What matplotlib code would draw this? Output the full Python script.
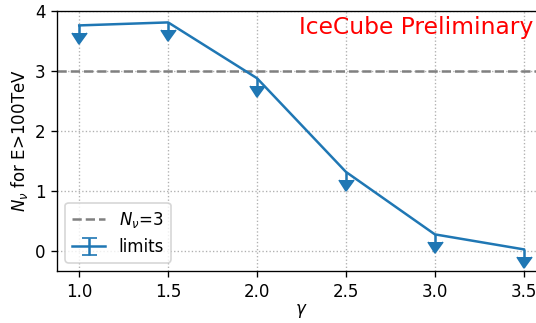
import numpy as np
import matplotlib.pyplot as plt

gamma = [1.0, 1.5, 2.0, 2.5, 3.0, 3.5]
n_nu = [3.76, 3.81, 2.88, 1.32, 0.28, 0.03]
arrow_len = 0.13
y_ticks = [0, 1, 2, 3, 4]

dpi = 120
fig = plt.figure(figsize=(536 / dpi, 323 / dpi), dpi=dpi)
ax = fig.add_axes([57 / 536, 1 - 271 / 323, (546 - 57) / 536, (271 - 11) / 323])

ax.axhline(3, color='gray', linestyle='--', label=r'$N_\nu$=3')
line, caps, bars = ax.errorbar(gamma, n_nu, yerr=arrow_len, uplims=True,
                               color='tab:blue', label='limits')
for c in caps:
    c.set_markersize(9)
ax.text(3.555, 3.72, 'IceCube Preliminary', color='red', fontsize=14,
        ha='right', va='center')

ax.set_xlim(0.875, 3.625)
ax.set_ylim(-0.33, 4)
ax.set_yticks(y_ticks)
ax.set_xlabel(r'$\gamma$', labelpad=1)
ax.set_ylabel(r'$N_\nu$ for E>100TeV', labelpad=3)
ax.grid(True, linestyle=':')
ax.legend(loc='lower left')

fig.savefig('out.png', dpi=dpi)
